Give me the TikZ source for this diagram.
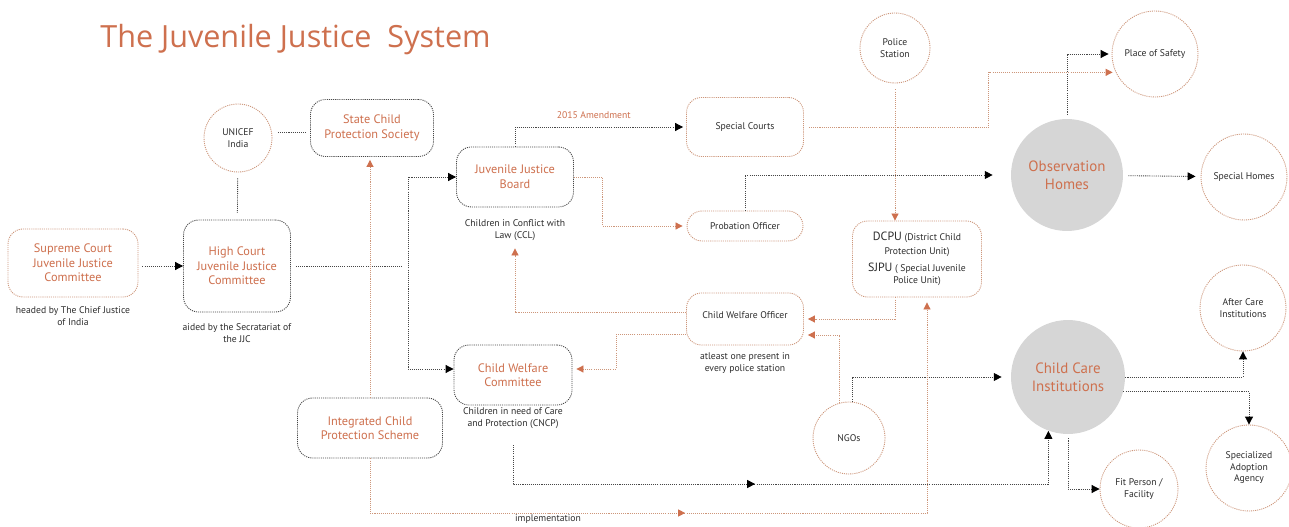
\documentclass[tikz,border=0pt]{standalone}
\usepackage{fontspec}
\setmainfont{PT Sans}
\newfontfamily\titlefont{Open Sans}
\usetikzlibrary{arrows.meta,decorations.markings}
\definecolor{jjorange}{RGB}{206,112,78}
\definecolor{dotorange}{RGB}{205,150,122}
\definecolor{dotgray}{RGB}{70,70,70}
\definecolor{circgray}{RGB}{214,214,214}
\definecolor{txtgray}{RGB}{45,45,45}
\begin{document}
\begin{tikzpicture}[x=0.02cm,y=-0.02cm,
  dots/.style={line width=0.5pt,dash pattern=on 0.6pt off 0.6pt},
  obox/.style={draw=dotorange,dots,rounded corners=0.3cm,align=center},
  kbox/.style={draw=dotgray,dots,rounded corners=0.3cm,align=center},
  big/.style={font=\fontsize{7}{8.3}\selectfont,text=jjorange},
  small/.style={font=\fontsize{5.5}{6.5}\selectfont,text=txtgray,align=center},
  ring/.style={circle,draw=dotorange,dots,inner sep=0pt,align=center,small},
  disc/.style={circle,fill=circgray,inner sep=0pt,align=center,font=\fontsize{8.5}{10}\selectfont,text=jjorange},
  klink/.style={draw=dotgray,dots},
  olink/.style={draw=dotorange,dots},
  kend/.style={-{Triangle[length=4.5pt,width=4.5pt,color=black]}},
  kboth/.style={{Triangle[length=4.5pt,width=4.5pt,color=black]}-{Triangle[length=4.5pt,width=4.5pt,color=black]}},
  oend/.style={-{Triangle[length=4pt,width=4pt,color=jjorange]}},
  midktip/.style={postaction={decorate,decoration={markings,mark=at position #1 with {\arrow{Triangle[length=4.5pt,width=4.5pt,color=black]}}}}},
  midotip/.style={postaction={decorate,decoration={markings,mark=at position #1 with {\arrow{Triangle[length=4pt,width=4pt,color=jjorange]}}}}}
]
\useasboundingbox[fill=white] (0,0) rectangle (1289,527);
\node (title) at (100,40) [anchor=west,inner sep=0pt,font={\titlefont\fontsize{17.4}{20}\selectfont},text=jjorange] {The Juvenile Justice\ \ System};

\node (sc) at (73,263) [obox,big,minimum width=2.6cm,minimum height=1.36cm] {Supreme Court\\Juvenile Justice\\Committee};
\node (sctxt) at (73,316) [small] {headed by The Chief Justice\\of India};
\node (hc) at (237,266) [kbox,big,minimum width=2.14cm,minimum height=1.84cm] {High Court\\Juvenile Justice\\Committee};
\node (hctxt) at (237,333) [small] {aided by the Secratariat of\\the JJC};
\node (unicef) at (238,138) [ring,minimum size=1.36cm] {UNICEF\\India};
\node (scps) at (372,128) [kbox,big,minimum width=2.46cm,minimum height=1.14cm] {State Child\\Protection Society};
\node (jjb) at (515,177) [kbox,big,minimum width=2.34cm,minimum height=1.2cm] {Juvenile Justice\\Board};
\node (jjbtxt) at (515,230) [small] {Children in Conflict with\\Law (CCL)};
\node (cwc) at (513,375) [kbox,big,minimum width=2.36cm,minimum height=1.2cm] {Child Welfare\\Committee};
\node (cwctxt) at (513,418) [small] {Children in need of Care\\and Protection (CNCP)};
\node (icps) at (370,428) [kbox,big,minimum width=2.9cm,minimum height=1.2cm] {Integrated Child\\Protection Scheme};
\node (spc) at (745,127) [obox,small,minimum width=2.34cm,minimum height=1.18cm] {Special Courts};
\node (po) at (745,226) [obox,small,minimum width=2.32cm,minimum height=0.6cm] {Probation Officer};
\node (cwo) at (745,319) [obox,minimum width=2.34cm,minimum height=1.04cm,label={[small,anchor=north,yshift=-0.25cm]north:Child Welfare Officer}] {};
\node (cwotxt) at (745,363) [small] {atleast one present in\\every police station};
\node (police) at (895,48) [ring,minimum size=1.4cm] {Police\\Station};
\node (dcpu) at (917,259) [obox,small,minimum width=2.58cm,minimum height=1.52cm] {{\fontsize{6.8}{7}\selectfont DCPU} (District Child\\[1.3pt]Protection Unit)\\[3.2pt]{\fontsize{6.8}{7}\selectfont SJPU} ( Special Juvenile\\[0.6pt]Police Unit)};
\node (ngo) at (849,438) [ring,minimum size=1.44cm] {NGOs};
\node (obs) at (1067,175) [disc,minimum size=2.24cm] {Observation\\Homes};
\node (cci) at (1068,377) [disc,minimum size=2.28cm] {Child Care\\Institutions};
\node (pos) at (1155,54) [ring,minimum size=1.72cm] {Place of Safety};
\node (sph) at (1244,177) [ring,minimum size=1.72cm] {Special Homes};
\node (aci) at (1243,308) [ring,minimum size=1.72cm] {After Care\\Institutions};
\node (saa) at (1249,468) [ring,minimum size=1.72cm] {Specialized\\Adoption\\Agency};
\node (fit) at (1139,489) [ring,minimum size=1.56cm] {Fit Person /\\Facility};
\coordinate (hcend) at (402,266);
\coordinate (cwcout) at (513,445);

\draw[klink,kend,shorten <=0.08cm] (sc.east |- hc.west) -- (hc.west);
\draw[klink,shorten <=0.12cm,shorten >=0.14cm] (unicef) -- (hc);
\draw[klink,shorten <=0.12cm,shorten >=0.06cm] (unicef.10) -- (unicef.10 -| scps.west);
\draw[klink,shorten <=0.1cm] (hc.east) -- (hcend);
\draw[klink,kboth] (jjb.west) -- ++(-48,0) |- ([yshift=0.12cm]cwc.west);
\draw[klink,kend,shorten >=0.06cm] (jjb.north) |- (spc.west) node[pos=0.73,above=1pt,font=\fontsize{5.5}{6}\selectfont,text=jjorange] {2015 Amendment};
\draw[olink,oend,shorten >=0.08cm] (jjb.east) -- ++(29,0) |- (po.west);
\draw[klink,kend,shorten >=0.36cm] (po.north) |- (obs.west);
\draw[olink,oend,shorten <=0.1cm,shorten >=0.06cm] (spc.east) -- ++(185,0) |- (pos.205);
\draw[klink,kend,shorten <=0.08cm,shorten >=0.06cm] (obs.north) |- (pos.west);
\draw[klink,kend,shorten <=0.1cm,shorten >=0.1cm] (obs) -- (sph);
\draw[olink,oend,shorten <=0.12cm] (police) -- (police |- dcpu.north);
\draw[olink,oend,shorten >=0.08cm] (dcpu.south -| police) |- (cwo.east);
\draw[olink,oend,shorten >=0.08cm] (ngo.105) |- ([yshift=-0.32cm]cwo.east);
\draw[klink,kend,shorten >=0.18cm] (ngo.85) |- (cci.west);
\draw[olink,oend,midotip=0.447,shorten >=0.1cm] (icps.south) |- (548,513) node[below=0.3pt,inner sep=0.5pt,small] {implementation} -| ([xshift=0.2cm]dcpu.south);
\draw[klink,kend,midktip=0.448] (cwcout) -- ++(0,39) -| (cci.250);
\draw[olink,oend,shorten >=0.04cm] ([yshift=0.14cm]cwo.west) -| (jjbtxt.south);
\draw[olink,oend,shorten >=0.08cm] ([yshift=-0.3cm]cwo.west) -- ++(-70,0) |- ([yshift=0.12cm]cwc.east);
\draw[olink,oend,shorten >=0.06cm] (icps.north) -- (icps.north |- scps.south);
\draw[klink,kend] (cci.east) -| (aci.south);
\draw[klink,kend] (cci.345) -| (saa.north);
\draw[klink,kend,shorten <=0.08cm] (cci.south) |- (fit.west);
\end{tikzpicture}
\end{document}
